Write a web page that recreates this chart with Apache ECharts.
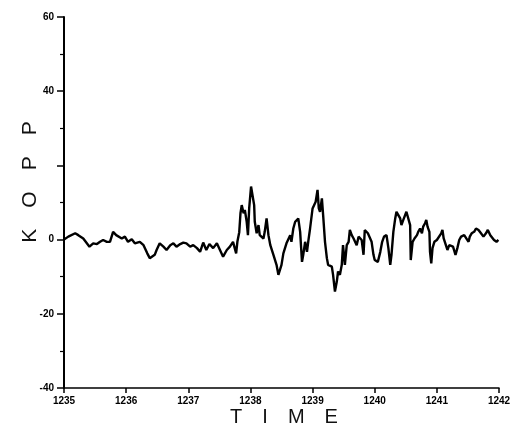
<!DOCTYPE html>
<html>
<head>
<meta charset="utf-8">
<script src="https://cdn.jsdelivr.net/npm/echarts@6/dist/echarts.min.js"></script>
<style>html,body{margin:0;padding:0;background:#fff;}#c{width:514px;height:429px;}</style>
</head>
<body>
<div id="c"></div>
<script>
var times = [1235.00,1235.07,1235.18,1235.23,1235.31,1235.41,1235.47,1235.53,1235.58,1235.63,1235.69,1235.74,1235.79,1235.84,1235.87,1235.93,1235.98,1236.03,1236.09,1236.14,1236.22,1236.28,1236.34,1236.38,1236.46,
1236.49,1236.54,1236.60,1236.65,1236.71,1236.76,1236.81,1236.87,1236.92,1236.97,1237.03,1237.08,1237.14,1237.19,1237.24,1237.29,1237.34,1237.40,1237.46,1237.51,1237.56,1237.62,1237.67,1237.72,1237.77,1237.79,
1237.82,1237.84,1237.86,1237.89,1237.91,1237.94,1237.96,1237.98,1238.01,1238.03,1238.06,1238.07,1238.10,1238.13,1238.15,1238.21,1238.23,1238.26,1238.29,1238.32,1238.34,1238.37,1238.40,1238.42,1238.45,1238.48,1238.50,1238.53,1238.56,1238.58,1238.61,1238.64,1238.66,1238.69,1238.72,1238.74,1238.77,1238.80,1238.83,1238.85,1238.88,1238.91,1238.93,1238.96,1239.00,1239.03,1239.05,1239.08,1239.10,1239.12,1239.15,1239.17,1239.20,1239.23,
1239.25,1239.31,1239.33,1239.36,1239.39,1239.41,1239.44,1239.47,1239.49,1239.52,1239.55,1239.58,1239.60,1239.63,1239.66,1239.71,1239.74,1239.79,1239.82,1239.84,1239.89,1239.92,1239.95,1239.98,1240.00,1240.05,1240.09,1240.12,1240.15,1240.19,1240.22,1240.25,1240.27,1240.30,1240.33,1240.35,1240.38,1240.41,1240.43,1240.46,1240.49,1240.51,1240.54,1240.57,1240.58,1240.61,1240.64,
1240.68,1240.70,1240.73,1240.76,1240.78,1240.81,1240.83,1240.85,1240.86,1240.88,1240.89,1240.91,1240.93,1240.96,1241.00,1241.03,1241.07,1241.09,1241.11,1241.14,1241.17,1241.20,1241.23,1241.26,1241.28,1241.30,1241.33,1241.36,1241.39,1241.42,1241.44,1241.47,1241.51,1241.53,1241.56,1241.60,1241.63,1241.67,1241.71,1241.75,1241.79,1241.82,1241.86,1241.89,1241.92,1241.96,1241.99];

var kopp = [0.0,0.8,1.7,1.2,0.3,-1.9,-1.0,-1.2,-0.6,-0.1,-0.6,-0.6,2.1,1.2,1.7,0.3,0.8,-0.6,0.1,-1.0,-0.6,-1.5,-3.7,-5.0,-4.1,
-2.8,-1.0,-1.9,-2.8,-1.5,-1.0,-1.9,-1.2,-0.8,-1.0,-1.9,-1.5,-2.3,-3.3,-0.8,-2.8,-1.2,-2.3,-1.0,-2.8,-4.6,-2.8,-1.9,-0.6,-3.7,-0.6,
2.0,7.1,9.3,7.1,8.0,4.8,1.2,8.4,14.3,14.7,9.3,4.8,1.7,3.9,1.2,0.3,2.1,5.7,1.2,-1.5,-1.9,-4.1,-4.1,-6.8,-9.5,-9.5,-6.8,-3.7,-4.1,-1.0,-1.5,1.2,-0.6,3.0,4.8,4.4,5.7,2.1,-6.0,-4.1,-0.6,-3.3,-0.6,3.0,8.4,8.0,10.2,13.4,8.4,7.5,11.1,6.6,-0.6,-5.0,
-6.8,-7.3,-9.5,-14.0,-11.3,-8.6,-9.5,-6.8,-1.5,-6.8,-1.5,-0.6,2.6,1.2,0.3,-1.5,0.8,-0.1,-4.1,2.6,1.7,2.1,-0.6,-4.1,-5.5,-6.0,-3.3,-0.6,0.8,1.2,-2.3,-6.8,-4.1,2.1,5.7,7.5,6.6,5.7,3.9,5.3,4.8,7.5,8.0,3.9,-5.5,-0.6,0.3,
1.2,2.1,3.0,1.7,3.5,4.4,5.3,3.5,3.9,2.1,-3.3,-6.4,-2.3,-0.6,-0.1,0.3,1.7,2.6,0.3,-0.1,-2.8,-1.5,-1.0,-1.9,-1.9,-4.1,-2.3,-0.1,0.8,0.5,1.2,0.8,-0.6,0.8,1.7,2.1,3.0,2.6,1.7,0.8,1.7,2.6,1.2,0.8,-0.1,-0.6,-0.1];

var xTicks = [1235,1236,1237,1238,1239,1240,1241,1242];
var yTicks = [-40,-20,0,20,40,60];
var yShown = ['-40','-20','0','','40','60'];
var xTitle = 'T\u2003I\u2003M\u2003E';
var yTitle = 'K\u2003O\u2003P\u2003P';

var pts = times.map(function(t,i){return [t,kopp[i]];});
var chart = echarts.init(document.getElementById('c'));
var lblFont = {color:'#000',fontSize:10,fontWeight:'bold',fontFamily:'Liberation Sans, Arial, sans-serif'};
var titleFont = '20px "Liberation Sans Narrow", "Liberation Sans", Arial, sans-serif';
chart.setOption({
  animation:false,
  backgroundColor:'#fff',
  grid:{left:64,right:15,top:17,bottom:41,containLabel:false},
  xAxis:{type:'value',min:xTicks[0],max:xTicks[xTicks.length-1],interval:1,
    axisLine:{onZero:false,lineStyle:{color:'#000',width:1.5}},
    axisTick:{show:true,length:5,lineStyle:{color:'#000',width:1.5}},
    axisLabel:Object.assign({margin:8,formatter:function(v){return String(v);}},lblFont),
    splitLine:{show:false}},
  yAxis:{type:'value',min:yTicks[0],max:yTicks[yTicks.length-1],interval:20,
    axisLine:{show:true,onZero:false,lineStyle:{color:'#000',width:2}},
    axisTick:{show:true,length:7,lineStyle:{color:'#000',width:1.5}},
    minorTick:{show:true,splitNumber:2,length:4,lineStyle:{color:'#000',width:1.2}},
    axisLabel:Object.assign({margin:10,formatter:function(v){var i=yTicks.indexOf(v);return i>=0?yShown[i]:'';}},lblFont),
    splitLine:{show:false}},
  graphic:[
    {type:'text',x:284,y:417,style:{text:xTitle,fill:'#111',font:titleFont,textAlign:'center',textVerticalAlign:'middle'}},
    {type:'text',x:30,y:182,rotation:Math.PI/2,style:{text:yTitle,fill:'#111',font:'21px "Liberation Sans Narrow", "Liberation Sans", Arial, sans-serif',textAlign:'center',textVerticalAlign:'middle'}}
  ],
  series:[{type:'line',data:pts,showSymbol:false,symbol:'none',lineStyle:{color:'#000',width:2.4},silent:true}]
});
</script>
</body>
</html>
